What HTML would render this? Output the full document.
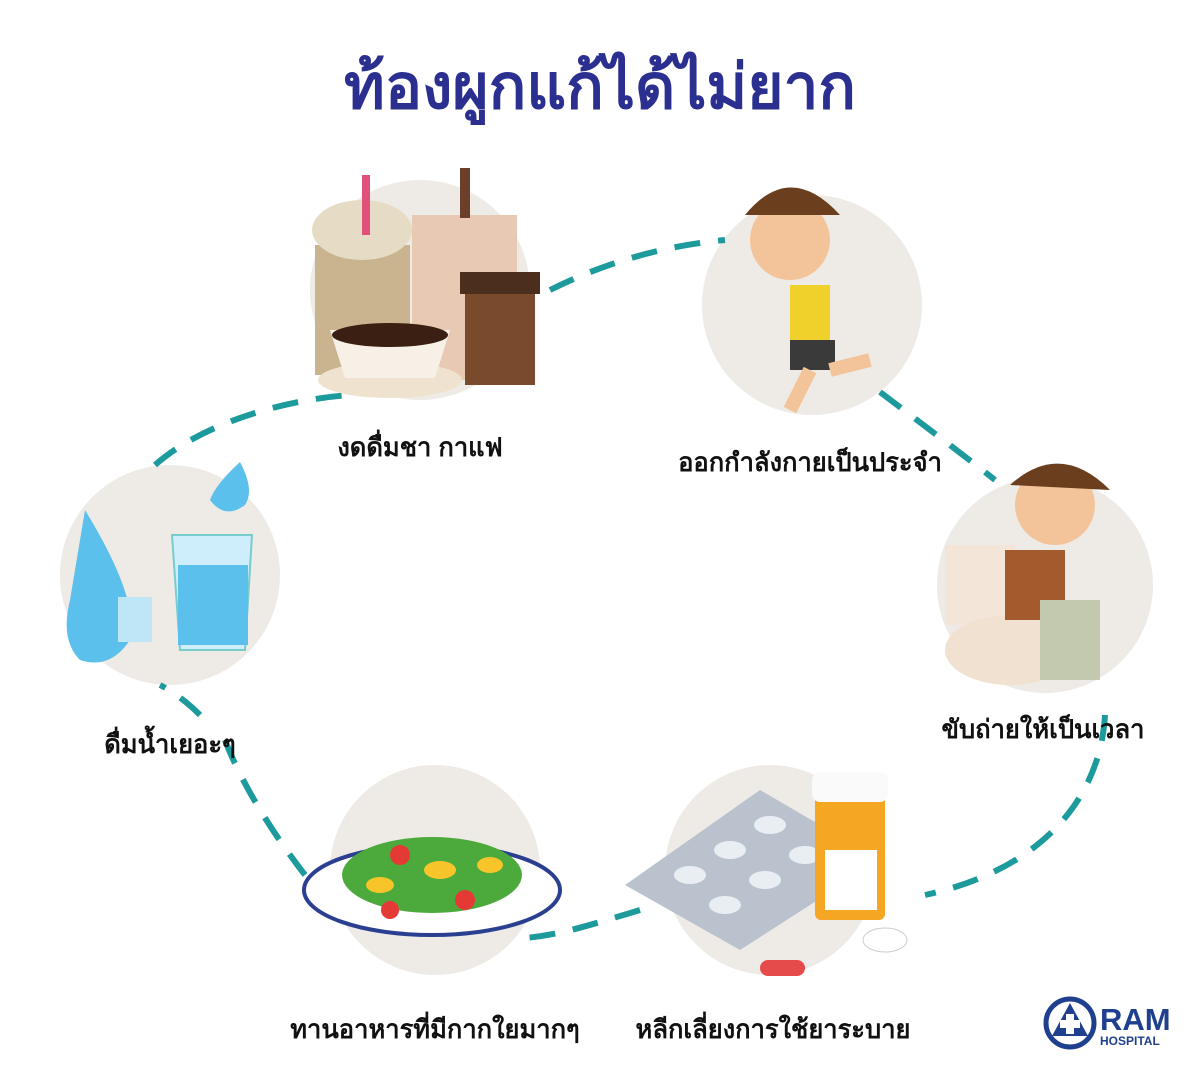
<!DOCTYPE html>
<html><head><meta charset="utf-8"><style>
body{margin:0;background:#fff;}
.w{position:relative;width:1200px;height:1071px;overflow:hidden;font-family:"Liberation Sans","DejaVu Sans",sans-serif;}
.t{position:absolute;left:0;width:1200px;text-align:center;top:38px;font-size:62px;font-weight:bold;color:#2b2f8f;}
.l{position:absolute;font-size:25.5px;font-weight:bold;color:#111;text-align:center;width:360px;}
</style></head><body><div class="w">
<div class="t">ท้องผูกแก้ได้ไม่ยาก</div>
<svg width="1200" height="1071" style="position:absolute;left:0;top:0">
<g fill="#eeebe6">
<circle cx="420" cy="290" r="110"/><circle cx="812" cy="305" r="110"/>
<circle cx="1045" cy="585" r="108"/><circle cx="770" cy="870" r="105"/>
<circle cx="435" cy="870" r="105"/><circle cx="170" cy="575" r="110"/>
</g>
<path d="M155,465 C200,425 280,400 350,395 M550,290 C610,260 670,245 725,240 M880,392 C930,430 970,460 995,480 M1105,715 C1100,800 1040,870 925,895 M640,910 C590,925 560,935 525,938 M305,875 C270,830 240,780 225,740 M200,715 C185,700 170,690 160,685" fill="none" stroke="#1c9a9c" stroke-width="6" stroke-dasharray="26 18"/>
<rect x="315" y="245" width="95" height="130" fill="#c9b48f"/><ellipse cx="362" cy="230" rx="50" ry="30" fill="#e6dcc6"/>
<rect x="362" y="175" width="8" height="60" fill="#e0507a"/>
<rect x="412" y="215" width="105" height="165" fill="#e8c9b4"/><rect x="460" y="168" width="10" height="50" fill="#6b3f2a"/>
<rect x="465" y="290" width="70" height="95" fill="#7a4a2c"/><rect x="460" y="272" width="80" height="22" fill="#4b2e1d"/>
<ellipse cx="390" cy="380" rx="72" ry="18" fill="#efe3cf"/><path d="M330,330 L450,330 L435,378 L345,378Z" fill="#f6f0e6"/><ellipse cx="390" cy="335" rx="58" ry="12" fill="#3a1f12"/>
<circle cx="790" cy="240" r="40" fill="#f3c49a"/><path d="M745,215 Q790,160 840,215 Z" fill="#6b3f1e"/>
<rect x="790" y="285" width="40" height="55" fill="#f0d12c"/><rect x="790" y="340" width="45" height="30" fill="#3a3a3a"/>
<path d="M810,370 L790,410 M830,370 L870,360" stroke="#f3c49a" stroke-width="14"/>
<rect x="945" y="545" width="70" height="80" fill="#f3e6d8"/><ellipse cx="1010" cy="650" rx="65" ry="35" fill="#f1e1d0"/>
<circle cx="1055" cy="505" r="40" fill="#f3c49a"/><path d="M1010,485 Q1060,440 1110,490 Z" fill="#6b3f1e"/>
<rect x="1005" y="550" width="60" height="70" fill="#a35a2c"/><rect x="1040" y="600" width="60" height="80" fill="#c3c9ae"/>
<path d="M625,885 L760,790 L880,860 L740,950 Z" fill="#b9c2cd"/>
<g fill="#e9eef3"><ellipse cx="690" cy="875" rx="16" ry="9"/><ellipse cx="730" cy="850" rx="16" ry="9"/><ellipse cx="770" cy="825" rx="16" ry="9"/><ellipse cx="725" cy="905" rx="16" ry="9"/><ellipse cx="765" cy="880" rx="16" ry="9"/><ellipse cx="805" cy="855" rx="16" ry="9"/></g>
<rect x="815" y="790" width="70" height="130" rx="6" fill="#f5a623"/><rect x="812" y="772" width="76" height="30" rx="8" fill="#fafafa"/><rect x="825" y="850" width="52" height="60" fill="#fff"/>
<rect x="760" y="960" width="45" height="16" rx="8" fill="#e64b4b"/><ellipse cx="885" cy="940" rx="22" ry="12" fill="#fff" stroke="#ccc"/>
<ellipse cx="432" cy="890" rx="128" ry="45" fill="#fff" stroke="#2a3f8f" stroke-width="4"/>
<ellipse cx="432" cy="875" rx="90" ry="38" fill="#4caa3c"/>
<circle cx="400" cy="855" r="10" fill="#e53935"/><circle cx="465" cy="900" r="10" fill="#e53935"/><circle cx="390" cy="910" r="9" fill="#e53935"/>
<ellipse cx="440" cy="870" rx="16" ry="9" fill="#f7c52a"/><ellipse cx="380" cy="885" rx="14" ry="8" fill="#f7c52a"/><ellipse cx="490" cy="865" rx="13" ry="8" fill="#f7c52a"/>
<path d="M85,510 Q140,600 130,640 Q110,670 80,660 Q60,640 70,600 Z" fill="#5bc0eb"/>
<rect x="118" y="597" width="34" height="45" fill="#bfe6f7"/>
<path d="M172,535 L252,535 L245,650 L180,650 Z" fill="#cfeefb" stroke="#7cc" stroke-width="2"/><rect x="178" y="565" width="70" height="80" fill="#5bc0eb"/>
<path d="M240,462 Q255,490 245,505 Q225,520 210,500 Q215,485 240,462Z" fill="#5bc0eb"/>
<circle cx="1070" cy="1023" r="24" fill="none" stroke="#1f3f8f" stroke-width="5"/>
<path d="M1070,1003 L1088,1036 L1052,1036 Z" fill="#1f3f8f"/><rect x="1066" y="1014" width="8" height="20" fill="#fff"/><rect x="1060" y="1020" width="20" height="8" fill="#fff"/>
<text x="1100" y="1030" font-family="Liberation Sans" font-weight="bold" font-size="31" fill="#1f3f8f">RAM</text>
<text x="1100" y="1045" font-family="Liberation Sans" font-weight="bold" font-size="12" fill="#1f3f8f">HOSPITAL</text>
</svg>
<div class="l" style="left:240px;top:428px">งดดื่มชา กาแฟ</div>
<div class="l" style="left:630px;top:443px">ออกกำลังกายเป็นประจำ</div>
<div class="l" style="left:863px;top:710px">ขับถ่ายให้เป็นเวลา</div>
<div class="l" style="left:593px;top:1010px">หลีกเลี่ยงการใช้ยาระบาย</div>
<div class="l" style="left:255px;top:1010px">ทานอาหารที่มีกากใยมากๆ</div>
<div class="l" style="left:-10px;top:725px">ดื่มน้ำเยอะๆ</div>
</div></body></html>
